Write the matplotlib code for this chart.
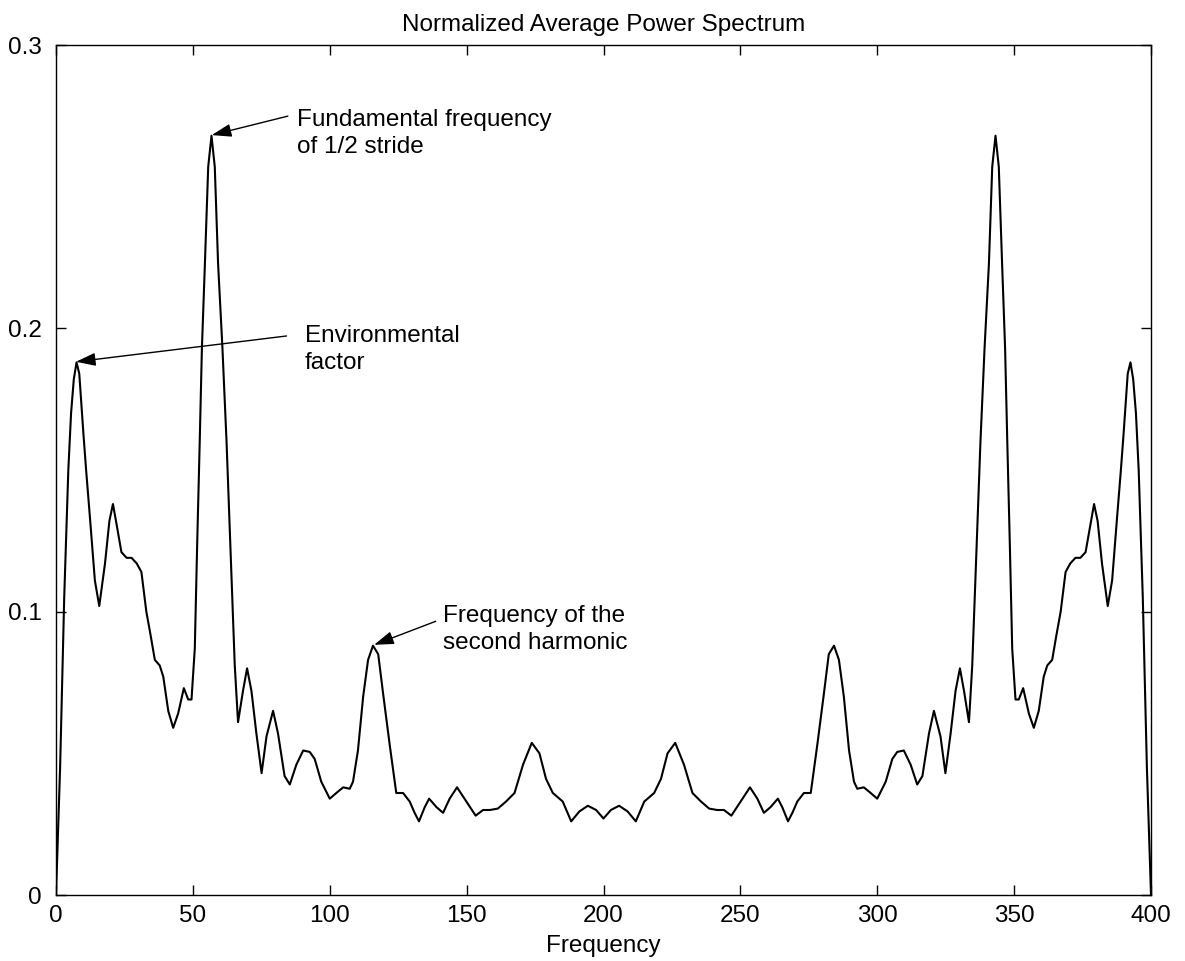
import matplotlib
matplotlib.use("Agg")
import matplotlib.pyplot as plt

# ---- data (left half: 0..200) ----
freq_left = [0, 1.5, 3, 4.5, 5.5, 6.5, 7.5, 8.5, 10, 11, 12.5, 14.2, 15.8, 17.9,
             19.5, 20.8, 22.1, 23.9, 25.8, 27.6, 29.5, 31.2, 33, 34.5, 36.1, 37.9,
             39.2, 41, 42.8, 44.6, 46.7, 48.3, 49.5, 50.7, 51.6, 52.5, 53.3, 54.4,
             55.6, 56.8, 58, 59.2, 60.8, 62.3, 64.1, 65.3, 66.5, 68.3, 69.8, 71.4,
             73.2, 75.1, 76.9, 79.3, 81.1, 83.5, 85.4, 87.8, 90.3, 92.7, 94.5, 96.9,
             100, 102.4, 104.9, 107.3, 108.5, 110.3, 112.2, 114, 115.8, 117.7, 119.5,
             121.9, 124.3, 126.8, 129.2, 131, 132.6, 134.7, 136.3, 139, 141.4, 143.8,
             146.5, 149.9, 153.3, 156, 158.5, 161.4, 164.4, 167.5, 170.6, 173.8,
             176.6, 179, 181.5, 185.1, 188.2, 191.2, 194.3, 197.3, 200]
power_left = [0.0, 0.045, 0.105, 0.150, 0.170, 0.182, 0.188, 0.184, 0.163, 0.150,
              0.132, 0.111, 0.102, 0.117, 0.132, 0.138, 0.131, 0.121, 0.119, 0.119,
              0.117, 0.114, 0.100, 0.092, 0.083, 0.081, 0.077, 0.065, 0.059, 0.064,
              0.073, 0.069, 0.069, 0.087, 0.125, 0.160, 0.193, 0.223, 0.257, 0.268,
              0.257, 0.223, 0.193, 0.160, 0.113, 0.081, 0.061, 0.072, 0.080, 0.072,
              0.057, 0.043, 0.056, 0.065, 0.057, 0.042, 0.039, 0.046, 0.051, 0.0505,
              0.048, 0.040, 0.034, 0.036, 0.038, 0.0375, 0.040, 0.051, 0.070, 0.083,
              0.088, 0.085, 0.071, 0.053, 0.036, 0.036, 0.033, 0.029, 0.026, 0.031,
              0.034, 0.031, 0.029, 0.034, 0.038, 0.033, 0.028, 0.030, 0.030, 0.0305,
              0.033, 0.036, 0.046, 0.0537, 0.050, 0.041, 0.036, 0.033, 0.026, 0.0295,
              0.0315, 0.030, 0.027]

# ---- right half: 200..400 ----
freq_right = [202.7, 205.7, 208.8, 211.8, 214.9, 218.5, 221, 223.4, 226.2, 229.4,
              232.5, 235.6, 238.6, 241.5, 244, 246.7, 250.1, 253.5, 256.2, 258.6,
              261, 263.7, 265.3, 267.4, 269, 270.8, 273.2, 275.7, 278.1, 280.5, 282.3,
              284.2, 286, 287.8, 289.7, 291.5, 292.7, 295.1, 297.6, 300, 303.1, 305.5,
              307.3, 309.7, 312.2, 314.6, 316.5, 318.9, 320.7, 323.1, 324.9, 326.8,
              328.6, 330.2, 331.7, 333.5, 334.7, 335.9, 337.7, 339.2, 340.8, 342,
              343.2, 344.4, 345.6, 346.7, 347.5, 348.4, 349.3, 350.5, 351.7, 353.3,
              355.4, 357.2, 359, 360.8, 362.1, 363.9, 365.5, 367, 368.8, 370.5, 372.4,
              374.2, 376.1, 377.9, 379.2, 380.5, 382.1, 384.2, 385.8, 387.5, 389, 390,
              391.5, 392.5, 393.5, 394.5, 395.5, 397, 398.5, 400]
power_right = [0.030, 0.0315, 0.0295, 0.026, 0.033, 0.036, 0.041, 0.050, 0.0537,
               0.046, 0.036, 0.033, 0.0305, 0.030, 0.030, 0.028, 0.033, 0.038, 0.034,
               0.029, 0.031, 0.034, 0.031, 0.026, 0.029, 0.033, 0.036, 0.036, 0.053,
               0.071, 0.085, 0.088, 0.083, 0.070, 0.051, 0.040, 0.0375, 0.038, 0.036,
               0.034, 0.040, 0.048, 0.0505, 0.051, 0.046, 0.039, 0.042, 0.057, 0.065,
               0.056, 0.043, 0.057, 0.072, 0.080, 0.072, 0.061, 0.081, 0.113, 0.160,
               0.193, 0.223, 0.257, 0.268, 0.257, 0.223, 0.193, 0.160, 0.125, 0.087,
               0.069, 0.069, 0.073, 0.064, 0.059, 0.065, 0.077, 0.081, 0.083, 0.092,
               0.100, 0.114, 0.117, 0.119, 0.119, 0.121, 0.131, 0.138, 0.132, 0.117,
               0.102, 0.111, 0.132, 0.150, 0.163, 0.184, 0.188, 0.182, 0.170, 0.150,
               0.105, 0.045, 0.0]

x_ticks = [0, 50, 100, 150, 200, 250, 300, 350, 400]
y_ticks = [0, 0.1, 0.2, 0.3]
y_tick_labels = ["0", "0.1", "0.2", "0.3"]

notes = ["Fundamental frequency\nof 1/2 stride", "Environmental\nfactor",
         "Frequency of the\nsecond harmonic"]
note_peaks = [(56.9, 0.2682), (7.3, 0.1882), (116.2, 0.0883)]
note_tails = [(84.7, 0.2749), (84.2, 0.1973), (138.7, 0.0966)]
note_text = [(88.0, 0.2689), (90.9, 0.1924), (141.2, 0.0938)]

plt.rcParams["font.family"] = ["Liberation Sans", "DejaVu Sans"]
FS = 17.5

fig = plt.figure(figsize=(11.85, 9.61), dpi=100)
ax = fig.add_axes([56 / 1185, 66 / 961, 1095 / 1185, 850 / 961])

ax.plot(freq_left + freq_right, power_left + power_right, color="black", lw=1.5)

ax.set_xlim(0, 400)
ax.set_ylim(0, 0.3)
ax.set_xticks(x_ticks)
ax.set_xticklabels([str(v) for v in x_ticks])
ax.set_yticks(y_ticks)
ax.set_yticklabels(y_tick_labels)
ax.tick_params(direction="in", length=7.5, width=1.0, top=True, right=True,
               labelsize=FS, colors="black")
ax.tick_params(axis="x", pad=7)
ax.tick_params(axis="y", pad=10)
for s in ax.spines.values():
    s.set_linewidth(1.0)
    s.set_color("black")

ax.set_title("Normalized Average Power Spectrum", fontsize=FS, pad=10)
ax.set_xlabel("Frequency", fontsize=FS, labelpad=6)

for txt, peak, tail, tpos in zip(notes, note_peaks, note_tails, note_text):
    ax.text(tpos[0], tpos[1], txt, fontsize=FS, ha="left", va="center",
            linespacing=1.3)
    ax.annotate("", xy=peak, xytext=tail,
                arrowprops=dict(arrowstyle="-|>,head_length=0.6,head_width=0.2",
                                mutation_scale=20, color="black", lw=1.0,
                                shrinkA=0, shrinkB=0))

fig.savefig("out.png", dpi=100)
